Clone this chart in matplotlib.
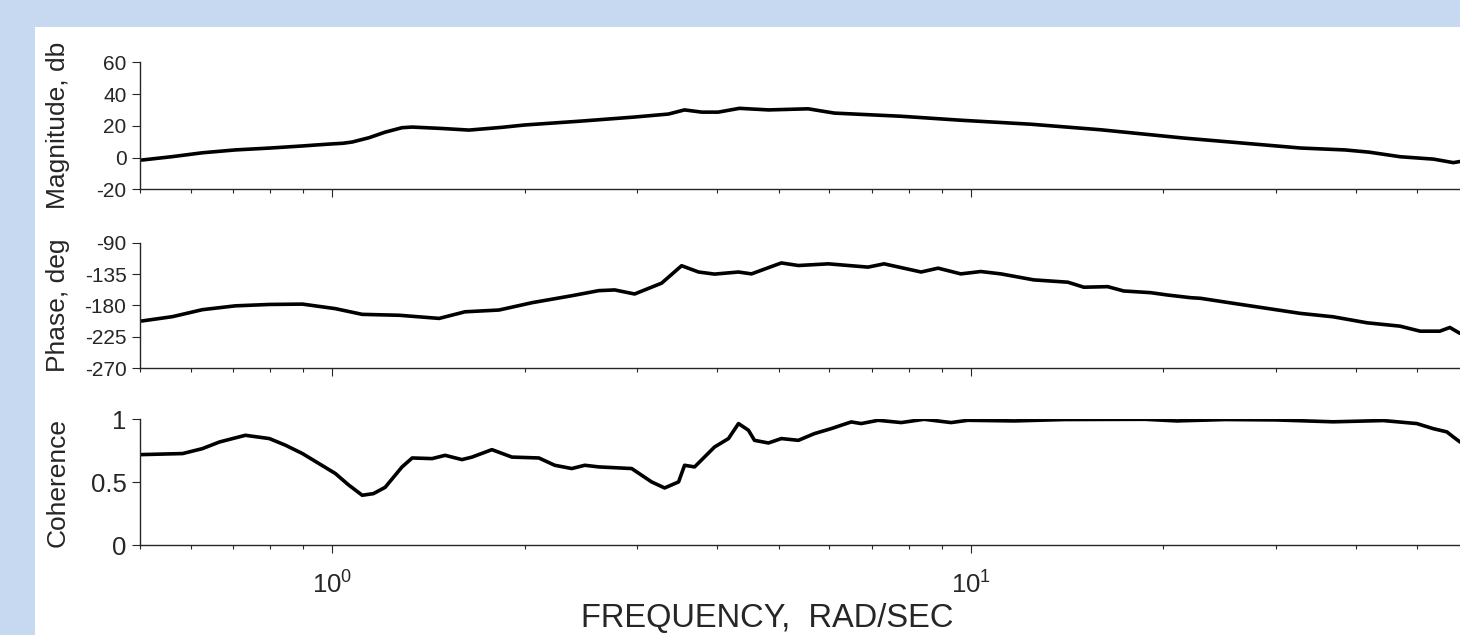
import numpy as np
import matplotlib
matplotlib.use("Agg")
import matplotlib.pyplot as plt
from matplotlib.patches import Rectangle
from matplotlib.ticker import LogLocator, NullFormatter, FixedLocator, FixedFormatter

# =====================================================
# =========       Constants and options       =========
# =====================================================

BG_COLOR = "#c6d9f0"
INK = "#262626"

plt.rcParams["font.family"] = ["Liberation Sans", "DejaVu Sans"]
plt.rcParams["mathtext.default"] = "regular"
plt.rcParams["axes.unicode_minus"] = False

# frequency range (rad/sec)
X_MIN, X_MAX = 0.5, 60.0

# Magnitude, db
mag_freq = [0.505, 0.56, 0.626, 0.705, 0.80, 0.898, 0.95, 1.0, 1.04, 1.075,
            1.142, 1.21, 1.286, 1.334, 1.486, 1.637, 1.84, 2.0, 2.46, 2.97,
            3.36, 3.56, 3.79, 4.02, 4.34, 4.82, 5.56, 6.11, 7.78, 9.64,
            12.4, 15.96, 21.5, 32.8, 38.5, 42.0, 47.0, 53.0, 56.9, 58.3, 60.0]
mag_db = [-1.5, 0.5, 3.0, 4.8, 6.0, 7.3, 8.0, 8.6, 9.0, 9.8,
          12.5, 16.0, 18.8, 19.2, 18.3, 17.3, 19.0, 20.5, 23.0, 25.5,
          27.4, 30.0, 28.6, 28.6, 31.0, 30.0, 30.7, 28.0, 26.0, 23.5,
          21.0, 17.5, 12.3, 6.0, 4.8, 3.4, 0.5, -1.0, -3.2, -2.5, -2.0]

# Phase, deg
phase_freq = [0.505, 0.562, 0.626, 0.705, 0.797, 0.898, 1.011, 1.114, 1.273, 1.47,
              1.614, 1.824, 2.054, 2.371, 2.614, 2.768, 2.974, 3.278, 3.523, 3.745,
              3.967, 4.325, 4.532, 5.048, 5.367, 5.977, 6.90, 7.31, 8.354, 8.881,
              9.64, 10.36, 11.14, 12.54, 14.18, 15.02, 16.37, 17.34, 19.11, 20.32,
              22.07, 22.87, 25.76, 28.39, 32.78, 36.9, 41.7, 46.95, 50.5, 54.2,
              56.2, 58.3, 60.0]
phase_deg = [-202, -196, -186, -180.5, -178.5, -178, -184.5, -192.7, -194, -198.5,
             -189, -186.5, -176, -166, -158.7, -157.7, -163.5, -148, -123, -132,
             -135, -132, -134.7, -119, -122.7, -120.3, -125, -120.3, -132, -126.5,
             -134.7, -131.3, -134.7, -143.3, -146.6, -153.8, -153, -159.2, -161.6, -165,
             -168.8, -169.7, -176.9, -182.7, -191.3, -196.2, -204.8, -209.6, -216.8, -216.8,
             -211.5, -220, -218]

# Coherence
coh_freq = [0.505, 0.583, 0.626, 0.666, 0.731, 0.797, 0.845, 0.898, 1.011, 1.06,
            1.114, 1.16, 1.21, 1.286, 1.334, 1.433, 1.502, 1.596, 1.655, 1.778,
            1.911, 2.106, 2.23, 2.371, 2.485, 2.614, 2.943, 3.162, 3.314, 3.485,
            3.561, 3.692, 3.967, 4.172, 4.325, 4.483, 4.582, 4.818, 5.048, 5.367,
            5.684, 6.042, 6.494, 6.73, 7.156, 7.776, 8.445, 9.306, 9.89, 11.7,
            14.0, 18.7, 21.0, 25.0, 30.0, 36.9, 44.2, 49.9, 52.9, 55.6,
            56.9, 58.3, 60.0]
coh_val = [0.72, 0.728, 0.767, 0.82, 0.873, 0.847, 0.794, 0.728, 0.57, 0.48,
           0.397, 0.41, 0.46, 0.622, 0.693, 0.688, 0.714, 0.68, 0.70, 0.759,
           0.70, 0.693, 0.635, 0.609, 0.635, 0.622, 0.609, 0.503, 0.455, 0.503,
           0.635, 0.622, 0.78, 0.847, 0.966, 0.913, 0.833, 0.812, 0.847, 0.833,
           0.886, 0.926, 0.979, 0.966, 0.992, 0.974, 1.0, 0.974, 0.992, 0.987,
           0.998, 1.0, 0.987, 0.998, 0.995, 0.98, 0.99, 0.966, 0.926, 0.9,
           0.86, 0.82, 0.80]

mag_ticks = [-20, 0, 20, 40, 60]
phase_ticks = [-270, -225, -180, -135, -90]
coh_ticks = [0, 0.5, 1]
coh_tick_labels = ["0", "0.5", "1"]

Y_LABELS = ["Magnitude, db", "Phase, deg", "Coherence"]
X_LABEL = "FREQUENCY,  RAD/SEC"


# =====================================================
# =========           Functions               =========
# =====================================================

def style_axis(ax, ticks, tick_size, labels=None):
    ax.set_xscale("log")
    ax.set_xlim(X_MIN, X_MAX)
    for side in ("top", "right"):
        ax.spines[side].set_visible(False)
    for side in ("left", "bottom"):
        ax.spines[side].set_color(INK)
        ax.spines[side].set_linewidth(1.0)
    ax.xaxis.set_major_locator(LogLocator(base=10))
    ax.xaxis.set_minor_locator(LogLocator(base=10, subs=np.arange(2, 10) / 1.0))
    ax.xaxis.set_minor_formatter(NullFormatter())
    ax.yaxis.set_major_locator(FixedLocator(ticks))
    if labels is not None:
        ax.yaxis.set_major_formatter(FixedFormatter(labels))
    ax.set_ylim(ticks[0], ticks[-1])
    ax.tick_params(axis="both", which="major", length=5.8, width=0.8,
                   color=INK, labelcolor=INK, direction="out")
    ax.tick_params(axis="x", which="minor", length=3.2, width=0.8, color=INK)
    ax.tick_params(axis="y", which="major", labelsize=tick_size, pad=4)
    ax.tick_params(axis="x", which="major", labelsize=18.5, pad=13)
    ax.patch.set_alpha(0)


# =====================================================
# =========              Main                 =========
# =====================================================

def main():
    fig = plt.figure(figsize=(14.6, 6.35), dpi=100, facecolor=BG_COLOR)
    fig.add_artist(Rectangle((35 / 1460, 0), 1.0, 1 - 27 / 635,
                             transform=fig.transFigure, facecolor="white",
                             edgecolor="none", zorder=0))

    left = 140 / 1460
    width = 1328 / 1460
    ax_mag = fig.add_axes([left, 0.7019, width, 0.2])
    ax_ph = fig.add_axes([left, 0.4200, width, 0.1978], sharex=ax_mag)
    ax_coh = fig.add_axes([left, 0.1413, width, 0.1984], sharex=ax_mag)

    ax_mag.plot(mag_freq, mag_db, color="black", lw=2.6, solid_joinstyle="round")
    ax_ph.plot(phase_freq, phase_deg, color="black", lw=2.6, solid_joinstyle="round")
    ax_coh.plot(coh_freq, coh_val, color="black", lw=2.6, solid_joinstyle="round")

    style_axis(ax_mag, mag_ticks, 15)
    style_axis(ax_ph, phase_ticks, 15)
    style_axis(ax_coh, coh_ticks, 18.5, coh_tick_labels)

    for ax in (ax_mag, ax_ph):
        ax.tick_params(axis="x", labelbottom=False)

    for ax, label in zip((ax_mag, ax_ph, ax_coh), Y_LABELS):
        ax.set_ylabel(label, fontsize=19, color=INK)
        ax.yaxis.set_label_coords(-0.053, 0.5)

    ax_coh.set_xlabel(X_LABEL, fontsize=23.5, color=INK)
    ax_coh.xaxis.set_label_coords(0.472, -0.455)

    fig.savefig("out.png", dpi=100, facecolor=BG_COLOR)
    plt.close(fig)


if __name__ == "__main__":
    main()
